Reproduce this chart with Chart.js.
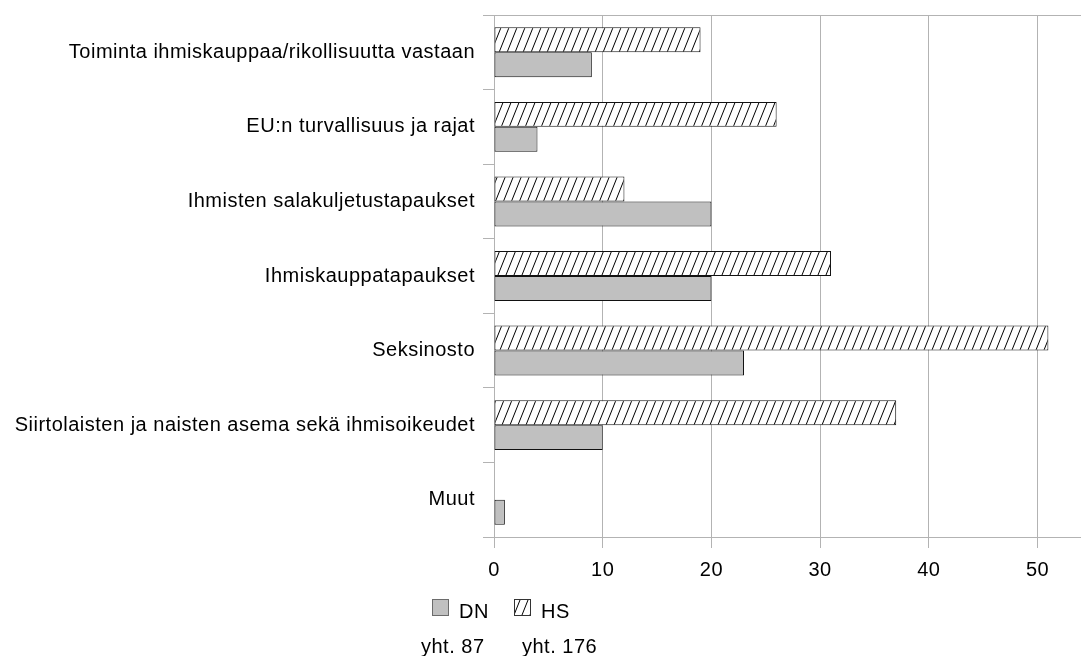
<!DOCTYPE html>
<html>
<head>
<meta charset="utf-8">
<script src="https://cdn.jsdelivr.net/npm/chart.js@4"></script>
<style>
  html, body { margin: 0; padding: 0; background: #fff; }
  #wrap { width: 1081px; height: 656px; position: relative; }
</style>
</head>
<body>
<div id="wrap"><canvas id="topicChart"></canvas></div>
<script>
const categories = [
  'Toiminta ihmiskauppaa/rikollisuutta vastaan',
  'EU:n turvallisuus ja rajat',
  'Ihmisten salakuljetustapaukset',
  'Ihmiskauppatapaukset',
  'Seksinosto',
  'Siirtolaisten ja naisten asema sekä ihmisoikeudet',
  'Muut'
];
const hsValues = [19, 26, 12, 31, 51, 37, 0];
const dnValues = [9, 4, 20, 20, 23, 10, 1];
const seriesNames = ['DN', 'HS'];
const totalLabels = ['yht. 87', 'yht. 176'];
const xTicks = [0, 10, 20, 30, 40, 50];

const FONT = '"Liberation Sans", Arial, sans-serif';
const GRID = '#b3b3b3';

// steep "/" hatch, 8px apart
function makeHatch() {
  const w = 8, h = 20;
  const c = document.createElement('canvas');
  c.width = w;
  c.height = h;
  const g = c.getContext('2d');
  g.fillStyle = '#fff';
  g.fillRect(0, 0, w, h);
  g.strokeStyle = '#000';
  g.lineWidth = 1;
  g.beginPath();
  for (let k = -1; k <= 1; k++) {
    g.moveTo(k * w, h);
    g.lineTo(k * w + w, 0);
  }
  g.stroke();
  return g.createPattern(c, 'repeat');
}

const hatch = makeHatch();

// a little extra tracking, like the original export
const spacing = {
  id: 'spacing',
  beforeUpdate(chart) {
    chart.ctx.letterSpacing = '0.5px';
  },
  beforeDraw(chart) {
    chart.ctx.letterSpacing = '0.5px';
  }
};

// legend + totals drawn under the axis
const bottomLegend = {
  id: 'bottomLegend',
  afterDraw(chart) {
    const ctx = chart.ctx;
    const items = [
      { name: seriesNames[0], fill: '#c0c0c0', stroke: '#6b6b6b', total: totalLabels[0], x: 432, tx: 421 },
      { name: seriesNames[1], fill: hatch, stroke: '#333', total: totalLabels[1], x: 514, tx: 522 }
    ];
    ctx.save();
    ctx.font = '20px ' + FONT;
    ctx.textBaseline = 'middle';
    ctx.textAlign = 'left';
    items.forEach((it) => {
      ctx.fillStyle = it.fill;
      ctx.fillRect(it.x, 599, 17, 17);
      ctx.strokeStyle = it.stroke;
      ctx.lineWidth = 1;
      ctx.strokeRect(it.x + 0.5, 599.5, 16, 16);
      ctx.fillStyle = '#000';
      ctx.fillText(it.name, it.x + 27, 612);
      ctx.fillText(it.total, it.tx, 647);
    });
    ctx.restore();
  }
};

new Chart(document.getElementById('topicChart'), {
  type: 'bar',
  data: {
    labels: categories,
    datasets: [{
      label: seriesNames[1],
      data: hsValues,
      backgroundColor: hatch,
      borderColor: '#111',
      borderWidth: 1,
      borderSkipped: false
    }, {
      label: seriesNames[0],
      data: dnValues,
      backgroundColor: '#c0c0c0',
      borderColor: '#111',
      borderWidth: 1,
      borderSkipped: false
    }]
  },
  options: {
    indexAxis: 'y',
    responsive: true,
    maintainAspectRatio: false,
    animation: false,
    categoryPercentage: 0.67,
    barPercentage: 1.0,
    layout: {
      padding: { top: 15, right: 0, bottom: 80, left: 0 }
    },
    plugins: {
      legend: { display: false },
      tooltip: { enabled: false }
    },
    scales: {
      x: {
        min: 0,
        max: 54,
        afterBuildTicks: function(axis) {
          axis.ticks = xTicks.map((v) => ({ value: v }));
        },
        afterFit: function(axis) {
          axis.height = 39;
        },
        grid: {
          color: GRID,
          tickColor: GRID,
          tickLength: 11
        },
        border: { color: GRID },
        ticks: {
          color: '#000',
          padding: 10,
          font: { family: FONT, size: 20 }
        }
      },
      y: {
        afterFit: function(axis) {
          axis.width = 494;
          axis.paddingTop = 0;
          axis.paddingBottom = 0;
        },
        grid: {
          offset: true,
          color: function(context) {
            return context.index === 0 ? GRID : 'rgba(0,0,0,0)';
          },
          tickColor: GRID,
          tickLength: 11
        },
        border: { color: GRID },
        ticks: {
          color: '#000',
          padding: 8,
          font: { family: FONT, size: 20 }
        }
      }
    }
  },
  plugins: [spacing, bottomLegend]
});
</script>
</body>
</html>
